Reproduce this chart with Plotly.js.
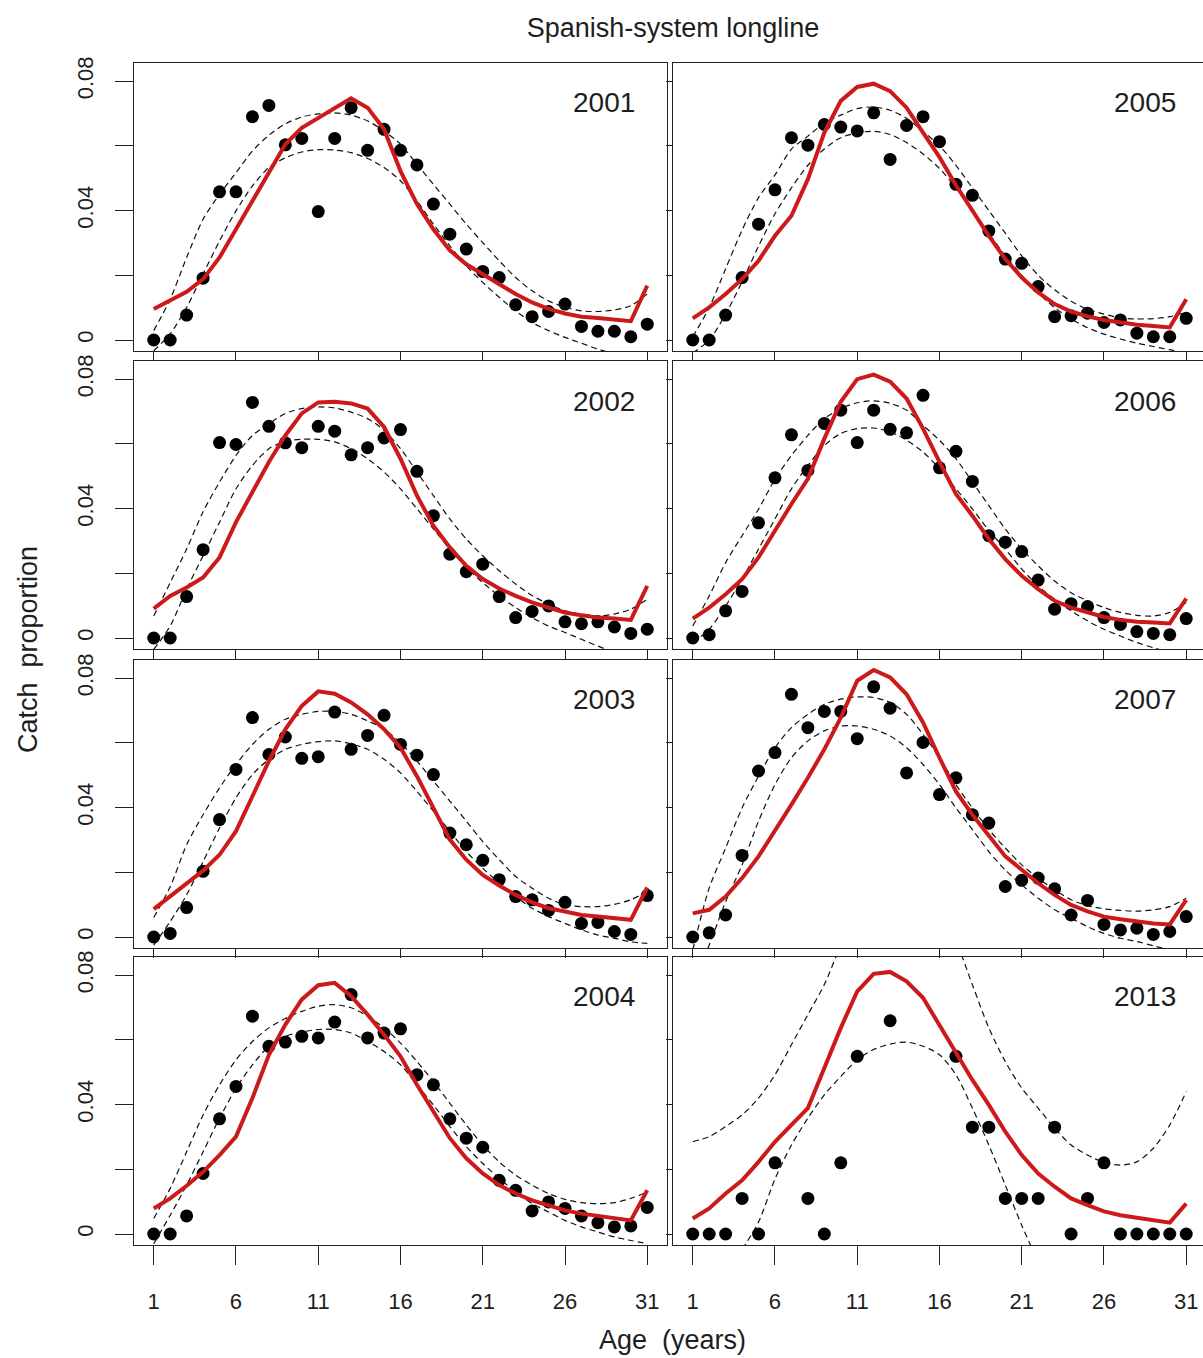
<!DOCTYPE html>
<html><head><meta charset="utf-8">
<script src="https://cdn.plot.ly/plotly-3.0.1.min.js"></script>
<style>html,body{margin:0;padding:0;background:#fff}#chart{width:1203px;height:1358px}</style>
</head><body><div id="chart"></div>
<script>
// ---------------- data ----------------
const ages = [1,2,3,4,5,6,7,8,9,10,11,12,13,14,15,16,17,18,19,20,21,22,23,24,25,26,27,28,29,30,31];
const tickAges = [1,6,11,16,21,26,31];
const tickProps = [0,0.02,0.04,0.06,0.08];
const tickPropLabels = ['0','','0.04','','0.08'];
const years = ['2001','2002','2003','2004','2005','2006','2007','2013'];

const obs2001 = [0,0,0.0077,0.0191,0.0458,0.0458,0.0690,0.0725,0.0603,0.0623,0.0397,0.0623,0.0718,0.0586,0.0651,0.0586,0.0541,0.0420,0.0327,0.0281,0.0212,0.0193,0.0109,0.0072,0.0088,0.0111,0.0042,0.0027,0.0027,0.0010,0.0049];
const fit2001 = [0.0096,0.0121,0.0149,0.0188,0.0255,0.0342,0.0430,0.0522,0.0605,0.0656,0.0687,0.0718,0.0747,0.0718,0.0651,0.0522,0.0420,0.0342,0.0277,0.0234,0.0204,0.0173,0.0142,0.0116,0.0096,0.0082,0.0072,0.0068,0.0062,0.0058,0.0168];
const upr2001 = [0.0029,0.0126,0.0255,0.0373,0.0450,0.0517,0.0584,0.0633,0.0668,0.0689,0.0699,0.0702,0.0695,0.0677,0.0646,0.0605,0.0543,0.0481,0.0420,0.0358,0.0301,0.0245,0.0193,0.0152,0.0121,0.0101,0.0090,0.0088,0.0093,0.0106,0.0142];
const lwr2001 = [-0.0033,0.0019,0.0101,0.0204,0.0306,0.0399,0.0476,0.0533,0.0563,0.0581,0.0588,0.0587,0.0579,0.0561,0.0533,0.0492,0.0430,0.0358,0.0291,0.0229,0.0178,0.0132,0.0090,0.0054,0.0029,0.0008,-0.0010,-0.0028,-0.0043,-0.0059,-0.0069];

const obs2002 = [0,0,0.0128,0.0273,0.0604,0.0598,0.0728,0.0654,0.0603,0.0588,0.0654,0.0639,0.0566,0.0588,0.0618,0.0644,0.0515,0.0378,0.0259,0.0205,0.0228,0.0128,0.0063,0.0082,0.0099,0.0050,0.0044,0.0050,0.0034,0.0014,0.0027];
const fit2002 = [0.0091,0.0130,0.0156,0.0187,0.0249,0.0358,0.0451,0.0544,0.0626,0.0694,0.0728,0.0730,0.0725,0.0709,0.0652,0.0554,0.0440,0.0347,0.0280,0.0223,0.0182,0.0153,0.0130,0.0110,0.0094,0.0079,0.0070,0.0063,0.0060,0.0056,0.0161];
const upr2002 = [0.0068,0.0171,0.0275,0.0390,0.0482,0.0564,0.0626,0.0662,0.0694,0.0709,0.0714,0.0711,0.0698,0.0678,0.0642,0.0585,0.0513,0.0440,0.0368,0.0306,0.0254,0.0208,0.0167,0.0131,0.0105,0.0084,0.0074,0.0068,0.0074,0.0089,0.0120];
const lwr2002 = [-0.0035,0.0037,0.0151,0.0254,0.0358,0.0461,0.0533,0.0585,0.0608,0.0614,0.0614,0.0606,0.0585,0.0554,0.0513,0.0461,0.0399,0.0337,0.0275,0.0218,0.0171,0.0130,0.0094,0.0063,0.0037,0.0017,-0.0004,-0.0025,-0.0045,-0.0060,-0.0075];

const obs2003 = [0,0.0011,0.0091,0.0203,0.0363,0.0518,0.0678,0.0564,0.0618,0.0552,0.0557,0.0695,0.0580,0.0623,0.0685,0.0595,0.0562,0.0502,0.0321,0.0285,0.0237,0.0177,0.0125,0.0115,0.0082,0.0107,0.0042,0.0045,0.0017,0.0008,0.0128];
const fit2003 = [0.0086,0.0125,0.0166,0.0205,0.0254,0.0327,0.0435,0.0544,0.0642,0.0714,0.0759,0.0752,0.0725,0.0688,0.0642,0.0585,0.0497,0.0399,0.0301,0.0239,0.0192,0.0159,0.0130,0.0107,0.0089,0.0079,0.0068,0.0063,0.0058,0.0053,0.0153];
const upr2003 = [0.0060,0.0155,0.0285,0.0378,0.0461,0.0533,0.0595,0.0642,0.0673,0.0688,0.0697,0.0697,0.0688,0.0668,0.0642,0.0600,0.0544,0.0482,0.0420,0.0358,0.0295,0.0239,0.0187,0.0151,0.0120,0.0099,0.0094,0.0094,0.0101,0.0115,0.0141];
const lwr2003 = [-0.0025,0.0048,0.0130,0.0233,0.0337,0.0430,0.0502,0.0549,0.0580,0.0595,0.0604,0.0606,0.0597,0.0580,0.0549,0.0507,0.0450,0.0389,0.0327,0.0264,0.0213,0.0166,0.0125,0.0089,0.0063,0.0042,0.0022,0.0006,-0.0004,-0.0015,-0.0020];

const obs2004 = [0,0,0.0056,0.0187,0.0356,0.0456,0.0673,0.0580,0.0593,0.0611,0.0606,0.0655,0.0740,0.0606,0.0621,0.0634,0.0492,0.0461,0.0356,0.0296,0.0268,0.0166,0.0135,0.0071,0.0099,0.0079,0.0056,0.0035,0.0022,0.0025,0.0082];
const fit2004 = [0.0079,0.0110,0.0149,0.0192,0.0244,0.0301,0.0420,0.0554,0.0647,0.0725,0.0769,0.0776,0.0735,0.0678,0.0616,0.0549,0.0461,0.0378,0.0296,0.0234,0.0187,0.0151,0.0125,0.0104,0.0087,0.0073,0.0063,0.0056,0.0050,0.0042,0.0135];
const upr2004 = [0.0048,0.0141,0.0254,0.0368,0.0461,0.0538,0.0595,0.0637,0.0666,0.0688,0.0704,0.0709,0.0699,0.0673,0.0637,0.0590,0.0533,0.0471,0.0404,0.0337,0.0275,0.0223,0.0182,0.0151,0.0125,0.0107,0.0097,0.0094,0.0097,0.0110,0.0130];
const lwr2004 = [-0.0030,0.0058,0.0151,0.0254,0.0358,0.0450,0.0523,0.0580,0.0611,0.0624,0.0632,0.0632,0.0621,0.0595,0.0564,0.0523,0.0461,0.0399,0.0332,0.0270,0.0218,0.0172,0.0130,0.0094,0.0068,0.0042,0.0022,0.0006,-0.0009,-0.0020,-0.0030];

const obs2005 = [0,0,0.0077,0.0193,0.0358,0.0464,0.0625,0.0602,0.0666,0.0658,0.0646,0.0702,0.0558,0.0663,0.0690,0.0613,0.0481,0.0447,0.0337,0.0250,0.0237,0.0165,0.0072,0.0075,0.0083,0.0054,0.0062,0.0021,0.0010,0.0010,0.0067];
const fit2005 = [0.0067,0.0101,0.0142,0.0188,0.0245,0.0322,0.0384,0.0497,0.0641,0.0739,0.0782,0.0792,0.0769,0.0718,0.0641,0.0565,0.0478,0.0399,0.0322,0.0250,0.0193,0.0147,0.0111,0.0088,0.0073,0.0062,0.0054,0.0047,0.0043,0.0039,0.0126];
const upr2005 = [0.0010,0.0100,0.0220,0.0340,0.0440,0.0510,0.0590,0.0630,0.0670,0.0695,0.0715,0.0720,0.0710,0.0685,0.0645,0.0600,0.0540,0.0470,0.0400,0.0330,0.0260,0.0200,0.0155,0.0120,0.0095,0.0080,0.0068,0.0065,0.0066,0.0072,0.0085];
const lwr2005 = [-0.0040,0.0000,0.0080,0.0180,0.0290,0.0390,0.0470,0.0540,0.0590,0.0625,0.0640,0.0645,0.0635,0.0610,0.0575,0.0530,0.0470,0.0400,0.0330,0.0260,0.0200,0.0145,0.0100,0.0065,0.0038,0.0018,0.0003,-0.0010,-0.0020,-0.0030,-0.0040];

const obs2006 = [0,0.0010,0.0084,0.0144,0.0356,0.0495,0.0628,0.0518,0.0663,0.0704,0.0604,0.0704,0.0645,0.0634,0.0750,0.0526,0.0577,0.0484,0.0316,0.0296,0.0267,0.0179,0.0089,0.0106,0.0097,0.0063,0.0042,0.0020,0.0014,0.0010,0.0060];
const fit2006 = [0.0060,0.0094,0.0135,0.0182,0.0249,0.0332,0.0414,0.0492,0.0616,0.0730,0.0800,0.0814,0.0792,0.0740,0.0647,0.0544,0.0445,0.0378,0.0306,0.0244,0.0192,0.0151,0.0115,0.0094,0.0079,0.0065,0.0056,0.0050,0.0048,0.0045,0.0122];
const upr2006 = [0.0037,0.0130,0.0233,0.0316,0.0398,0.0491,0.0564,0.0626,0.0678,0.0709,0.0727,0.0733,0.0725,0.0704,0.0657,0.0611,0.0554,0.0482,0.0409,0.0337,0.0275,0.0223,0.0176,0.0140,0.0115,0.0094,0.0079,0.0070,0.0068,0.0079,0.0110];
const lwr2006 = [-0.0014,0.0027,0.0099,0.0182,0.0275,0.0368,0.0461,0.0533,0.0595,0.0632,0.0647,0.0649,0.0637,0.0611,0.0575,0.0523,0.0461,0.0399,0.0332,0.0275,0.0213,0.0161,0.0120,0.0084,0.0053,0.0027,0.0006,-0.0014,-0.0030,-0.0045,-0.0060];

const obs2007 = [0,0.0013,0.0068,0.0252,0.0513,0.0570,0.0750,0.0647,0.0697,0.0697,0.0613,0.0773,0.0707,0.0507,0.0601,0.0440,0.0492,0.0378,0.0352,0.0156,0.0175,0.0182,0.0149,0.0068,0.0113,0.0039,0.0022,0.0027,0.0008,0.0017,0.0063];
const fit2007 = [0.0073,0.0084,0.0125,0.0182,0.0249,0.0327,0.0409,0.0492,0.0580,0.0678,0.0792,0.0825,0.0802,0.0750,0.0663,0.0554,0.0450,0.0378,0.0311,0.0249,0.0208,0.0166,0.0130,0.0099,0.0079,0.0063,0.0055,0.0048,0.0042,0.0039,0.0115];
const upr2007 = [-0.0040,0.0151,0.0275,0.0399,0.0497,0.0585,0.0647,0.0688,0.0719,0.0735,0.0742,0.0740,0.0725,0.0688,0.0626,0.0554,0.0471,0.0399,0.0332,0.0275,0.0223,0.0182,0.0146,0.0115,0.0097,0.0087,0.0082,0.0080,0.0084,0.0094,0.0120];
const lwr2007 = [-0.0150,-0.0025,0.0109,0.0223,0.0358,0.0471,0.0554,0.0606,0.0637,0.0652,0.0652,0.0642,0.0621,0.0585,0.0533,0.0471,0.0399,0.0332,0.0264,0.0207,0.0161,0.0120,0.0084,0.0058,0.0032,0.0011,-0.0004,-0.0014,-0.0027,-0.0040,-0.0050];

const obs2013 = [0,0,0,0.0110,0,0.0220,null,0.0110,0,0.0220,0.0549,null,0.0659,null,null,null,0.0549,0.0330,0.0330,0.0110,0.0110,0.0110,0.0330,0,0.0110,0.0220,0,0,0,0,0];
const fit2013 = [0.0048,0.0079,0.0125,0.0166,0.0223,0.0285,0.0337,0.0389,0.0513,0.0637,0.0750,0.0804,0.0810,0.0781,0.0730,0.0647,0.0559,0.0476,0.0399,0.0316,0.0244,0.0187,0.0146,0.0110,0.0089,0.0070,0.0058,0.0050,0.0044,0.0035,0.0094];
const upr2013 = [0.0285,0.0301,0.0332,0.0368,0.0420,0.0492,0.0585,0.0678,0.0771,0.0890,0.0980,0.1040,0.1060,0.1050,0.1010,0.0960,0.0900,0.0770,0.0637,0.0533,0.0451,0.0389,0.0327,0.0275,0.0244,0.0221,0.0213,0.0223,0.0265,0.0337,0.0440];
const lwr2013 = [-0.0350,-0.0250,-0.0150,-0.0050,0.0037,0.0170,0.0275,0.0358,0.0430,0.0487,0.0538,0.0570,0.0587,0.0593,0.0580,0.0554,0.0492,0.0389,0.0275,0.0151,0.0027,-0.0087,-0.0200,null,null,null,null,null,null,null,null];

// ---------------- layout helpers ----------------
const W = 1203, H = 1358;
const FONT = 'Liberation Sans, Arial, Helvetica, sans-serif';
const INK = '#1e1e1e';
const panels = [
  {year: years[0], obs: obs2001, fit: fit2001, upr: upr2001, lwr: lwr2001, col: 0, row: 0},
  {year: years[1], obs: obs2002, fit: fit2002, upr: upr2002, lwr: lwr2002, col: 0, row: 1},
  {year: years[2], obs: obs2003, fit: fit2003, upr: upr2003, lwr: lwr2003, col: 0, row: 2},
  {year: years[3], obs: obs2004, fit: fit2004, upr: upr2004, lwr: lwr2004, col: 0, row: 3},
  {year: years[4], obs: obs2005, fit: fit2005, upr: upr2005, lwr: lwr2005, col: 1, row: 0},
  {year: years[5], obs: obs2006, fit: fit2006, upr: upr2006, lwr: lwr2006, col: 1, row: 1},
  {year: years[6], obs: obs2007, fit: fit2007, upr: upr2007, lwr: lwr2007, col: 1, row: 2},
  {year: years[7], obs: obs2013, fit: fit2013, upr: upr2013, lwr: lwr2013, col: 1, row: 3}
];
const rowZeroPx = [340, 638, 937, 1234];
const colDomain = [[134 / W, 667 / W], [673 / W, 1]];
const colRange = [[-0.2, 32.2], [-0.2, 32.02]];
const yRange = [-0.0034, 0.0856];

const traces = [];
const layout = {
  width: W, height: H,
  margin: {l: 0, r: 0, t: 0, b: 0},
  paper_bgcolor: '#fff', plot_bgcolor: '#fff',
  showlegend: false,
  font: {family: FONT, color: INK},
  title: {
    text: 'Spanish-system longline',
    x: 673 / W, xanchor: 'center', xref: 'paper',
    y: 1 - 28 / H, yanchor: 'middle', yref: 'container',
    font: {size: 27, family: FONT, color: INK}
  },
  annotations: [
    {text: 'Age&nbsp;&nbsp;(years)', xref: 'paper', yref: 'paper', x: 672 / W, y: 1 - 1340 / H,
     xanchor: 'center', yanchor: 'middle', showarrow: false, font: {size: 27, family: FONT, color: INK}},
    {text: 'Catch&nbsp;&nbsp;proportion', xref: 'paper', yref: 'paper', x: 28 / W, y: 1 - 650 / H,
     xanchor: 'center', yanchor: 'middle', textangle: -90, showarrow: false, font: {size: 27, family: FONT, color: INK}}
  ]
};

panels.forEach((p, i) => {
  const n = i + 1;
  const xa = n === 1 ? 'x' : 'x' + n;
  const ya = n === 1 ? 'y' : 'y' + n;
  const z = rowZeroPx[p.row];
  const top = z - 277, bottom = z + 11;
  const isBottom = p.row === 3;
  const isLeft = p.col === 0;

  layout[n === 1 ? 'xaxis' : 'xaxis' + n] = {
    domain: colDomain[p.col], range: colRange[p.col], anchor: ya,
    tickvals: tickAges, ticktext: tickAges.map(String),
    ticks: 'outside', ticklen: isBottom ? 19 : 9, tickwidth: 1, tickcolor: '#222',
    showticklabels: isBottom, ticklabelstandoff: 18,
    tickfont: {size: 22, family: FONT, color: INK},
    showline: true, mirror: true, linecolor: '#222', linewidth: 1,
    showgrid: false, zeroline: false, fixedrange: true
  };
  layout[n === 1 ? 'yaxis' : 'yaxis' + n] = {
    domain: [1 - bottom / H, 1 - top / H], range: yRange, anchor: xa,
    tickvals: tickProps, ticktext: tickPropLabels,
    ticks: 'outside', ticklen: isLeft ? 18 : 6, tickwidth: 1, tickcolor: '#222',
    showticklabels: isLeft, tickangle: -90, ticklabelstandoff: 13,
    tickfont: {size: 22, family: FONT, color: INK},
    showline: true, mirror: isLeft, linecolor: '#222', linewidth: 1,
    showgrid: false, zeroline: false, fixedrange: true
  };

  traces.push({
    type: 'scatter', mode: 'markers', x: ages, y: p.obs, xaxis: xa, yaxis: ya,
    marker: {color: '#000', size: 13}, cliponaxis: false, hoverinfo: 'skip'
  });
  [p.upr, p.lwr].forEach(band => traces.push({
    type: 'scatter', mode: 'lines', x: ages, y: band, xaxis: xa, yaxis: ya,
    line: {color: '#111', width: 1.2, dash: '6px,4px', shape: 'spline', smoothing: 0.8},
    connectgaps: false, hoverinfo: 'skip'
  }));
  traces.push({
    type: 'scatter', mode: 'lines', x: ages, y: p.fit, xaxis: xa, yaxis: ya,
    line: {color: '#cc1a1a', width: 4}, hoverinfo: 'skip'
  });

  layout.annotations.push({
    text: p.year, xref: 'paper', yref: 'paper',
    x: (isLeft ? 637 : 1178) / W, y: 1 - (top + 40) / H,
    xanchor: 'right', yanchor: 'middle', showarrow: false,
    font: {size: 28, family: FONT, color: INK}
  });
});

Plotly.newPlot('chart', traces, layout, {staticPlot: true, displayModeBar: false});
</script>
</body></html>
